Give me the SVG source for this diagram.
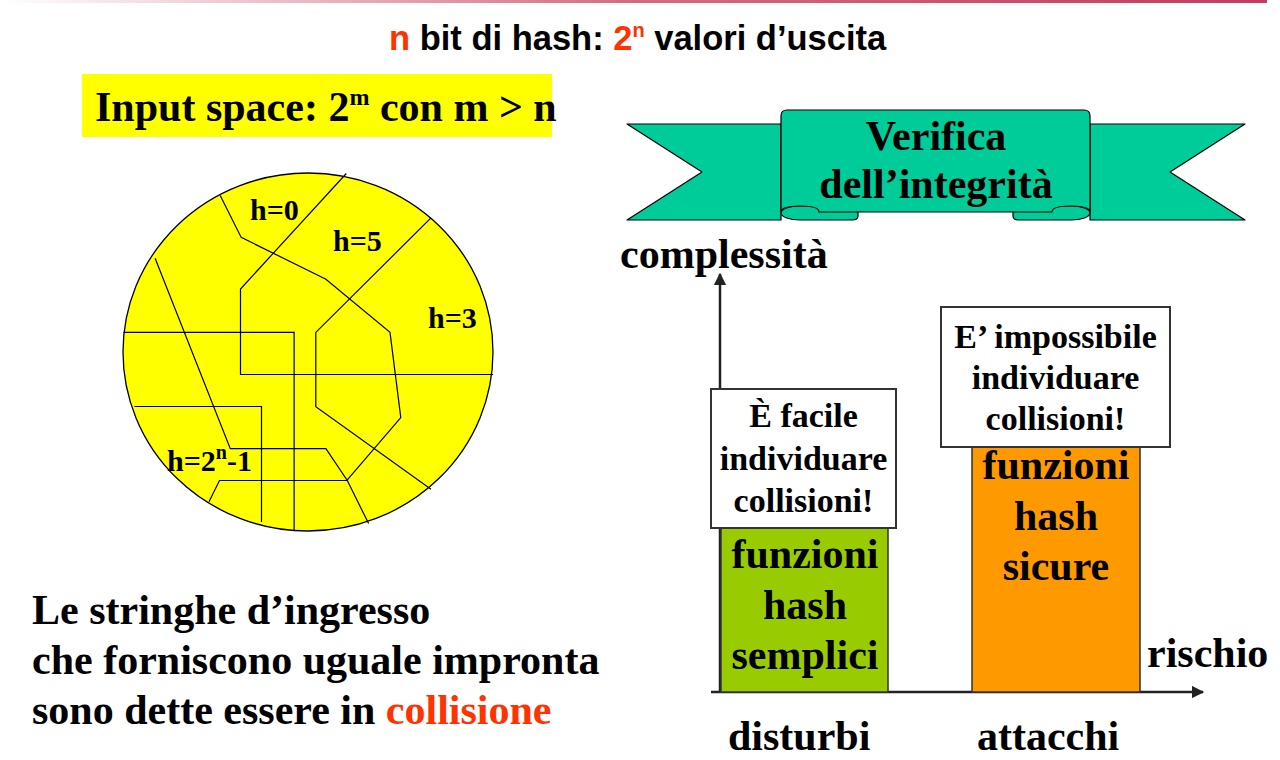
<svg xmlns="http://www.w3.org/2000/svg" width="1280" height="760" viewBox="0 0 1280 760">
<defs>
<linearGradient id="topline" x1="0" y1="0" x2="1" y2="0">
<stop offset="0" stop-color="#ffffff"/>
<stop offset="0.5" stop-color="#d46a80"/>
<stop offset="1" stop-color="#c43c5c"/>
</linearGradient>
<marker id="arr" viewBox="0 0 10 10" refX="9" refY="5" markerWidth="5" markerHeight="5" orient="auto" markerUnits="strokeWidth">
<path d="M0,0 L10,5 L0,10 Z" fill="#222"/>
</marker>
<style>
.serif{font-family:"Liberation Serif","Times New Roman",serif;font-weight:bold;fill:#000}
.sans{font-family:"Liberation Sans",Arial,sans-serif;font-weight:bold;fill:#000}
.red{fill:#ff3300}
.big{font-size:42px}
.mid{font-size:34px}
.lab{font-size:30px}
.cut{fill:none;stroke:#000;stroke-width:1.2}
.ribbon{fill:#00cc99;stroke:#000;stroke-width:1.2;stroke-linejoin:round}
.box{fill:#fff;stroke:#333;stroke-width:2}
.axis{stroke:#222;stroke-width:2.5;fill:none}
</style>
</defs>
<rect x="0" y="0" width="1280" height="760" fill="#fff"/>
<rect x="0" y="0" width="1267" height="3" fill="url(#topline)"/>

<g id="title">
<text class="sans" x="389" y="50" font-size="34.5"><tspan class="red">n</tspan> bit di hash: <tspan class="red">2</tspan><tspan class="red" font-size="20" dy="-13">n</tspan><tspan dy="13"> valori d’uscita</tspan></text>
</g>

<g id="input-space">
<rect x="82" y="74" width="470" height="63" fill="#ffff00"/>
<text class="serif big" x="95" y="121">Input space: 2<tspan font-size="24" dy="-16">m</tspan><tspan dy="16"> con m &gt; n</tspan></text>
</g>

<g id="circle">
<ellipse cx="308" cy="352" rx="185" ry="179" fill="#ffff00" stroke="#000" stroke-width="1.3"/>
<polyline class="cut" points="346.3,173.5 240.5,289 240.5,374.5 493,374.5"/>
<polyline class="cut" points="220.2,195.4 241.2,237.4 325.9,279.2 390,332.4 400.8,417.6 347.3,479.9"/>
<polyline class="cut" points="155.1,258.3 230.3,448.6 325.9,448.6 347.3,480.5 368.6,523.6"/>
<polyline class="cut" points="431,217.9 315.8,332.4 315.8,406.8 431,489.3"/>
<polyline class="cut" points="123.5,332.4 294.1,332.4 294.1,531"/>
<polyline class="cut" points="134.4,406.5 261.5,406.5 261.5,522"/>
<polyline class="cut" points="209,501.8 219.5,480.5 347.3,480.5"/>
<text class="serif lab" x="250" y="220">h=0</text>
<text class="serif lab" x="333" y="251">h=5</text>
<text class="serif lab" x="428" y="328">h=3</text>
<text class="serif lab" x="167" y="471">h=2<tspan font-size="20" dy="-12">n</tspan><tspan dy="12">-1</tspan></text>
</g>

<g id="banner">
<path class="ribbon" d="M627,124 L781,124 L781,220 L627,220 L702,172 Z"/>
<path class="ribbon" d="M1245,124 L1090,124 L1090,220 L1245,220 L1170,172 Z"/>
<path class="ribbon" d="M800,206 L858,206 L858,216 Q858,220 852,220 L800,220 A19,7 0 0 1 800,206 Z"/>
<path class="ribbon" d="M1071,206 L1013,206 L1013,216 Q1013,220 1019,220 L1071,220 A19,7 0 0 0 1071,206 Z"/>
<path class="ribbon" d="M787,110 L1084,110 Q1090,110 1090,116 L1090,212 Q1090,206 1071,206 Q1052,206 1052,212 L819,212 Q819,206 800,206 Q781,206 781,212 L781,116 Q781,110 787,110 Z"/>
<text class="serif big" x="936" y="150" text-anchor="middle">Verifica</text>
<text class="serif big" x="936" y="198" text-anchor="middle">dell’integrità</text>
</g>

<g id="connectors">
<line class="axis" x1="720" y1="692" x2="720" y2="274" marker-end="url(#arr)"/>
<line class="axis" x1="711" y1="692" x2="1203" y2="692" marker-end="url(#arr)"/>
</g>

<g id="bar-semplici">
<rect x="721" y="528" width="167" height="164" fill="#99cc00" stroke="#333" stroke-width="1.5"/>
<text class="serif big" x="805" y="568" text-anchor="middle">funzioni</text>
<text class="serif big" x="805" y="619" text-anchor="middle">hash</text>
<text class="serif big" x="805" y="669" text-anchor="middle">semplici</text>
</g>

<g id="box-facile">
<rect class="box" x="711" y="389" width="185" height="139"/>
<text class="serif mid" x="803.5" y="427" text-anchor="middle">È facile</text>
<text class="serif mid" x="803.5" y="470" text-anchor="middle">individuare</text>
<text class="serif mid" x="803.5" y="512" text-anchor="middle">collisioni!</text>
</g>

<g id="bar-sicure">
<rect x="972" y="447" width="168" height="245" fill="#ff9900" stroke="#333" stroke-width="1.5"/>
<text class="serif big" x="1056" y="479" text-anchor="middle">funzioni</text>
<text class="serif big" x="1056" y="530" text-anchor="middle">hash</text>
<text class="serif big" x="1056" y="580" text-anchor="middle">sicure</text>
</g>

<g id="box-impossibile">
<rect class="box" x="941" y="307" width="229" height="140"/>
<text class="serif mid" x="1055.5" y="348" text-anchor="middle">E’ impossibile</text>
<text class="serif mid" x="1055.5" y="389" text-anchor="middle">individuare</text>
<text class="serif mid" x="1055.5" y="430" text-anchor="middle">collisioni!</text>
</g>

<g id="axis-labels">
<text class="serif big" x="620" y="268">complessità</text>
<text class="serif big" x="1147" y="667">rischio</text>
<text class="serif big" x="728" y="750">disturbi</text>
<text class="serif big" x="977" y="750">attacchi</text>
</g>

<g id="caption">
<text class="serif big" x="32" y="624">Le stringhe d’ingresso</text>
<text class="serif big" x="32" y="674">che forniscono uguale impronta</text>
<text class="serif big" x="32" y="724">sono dette essere in <tspan class="red">collisione</tspan></text>
</g>
</svg>
